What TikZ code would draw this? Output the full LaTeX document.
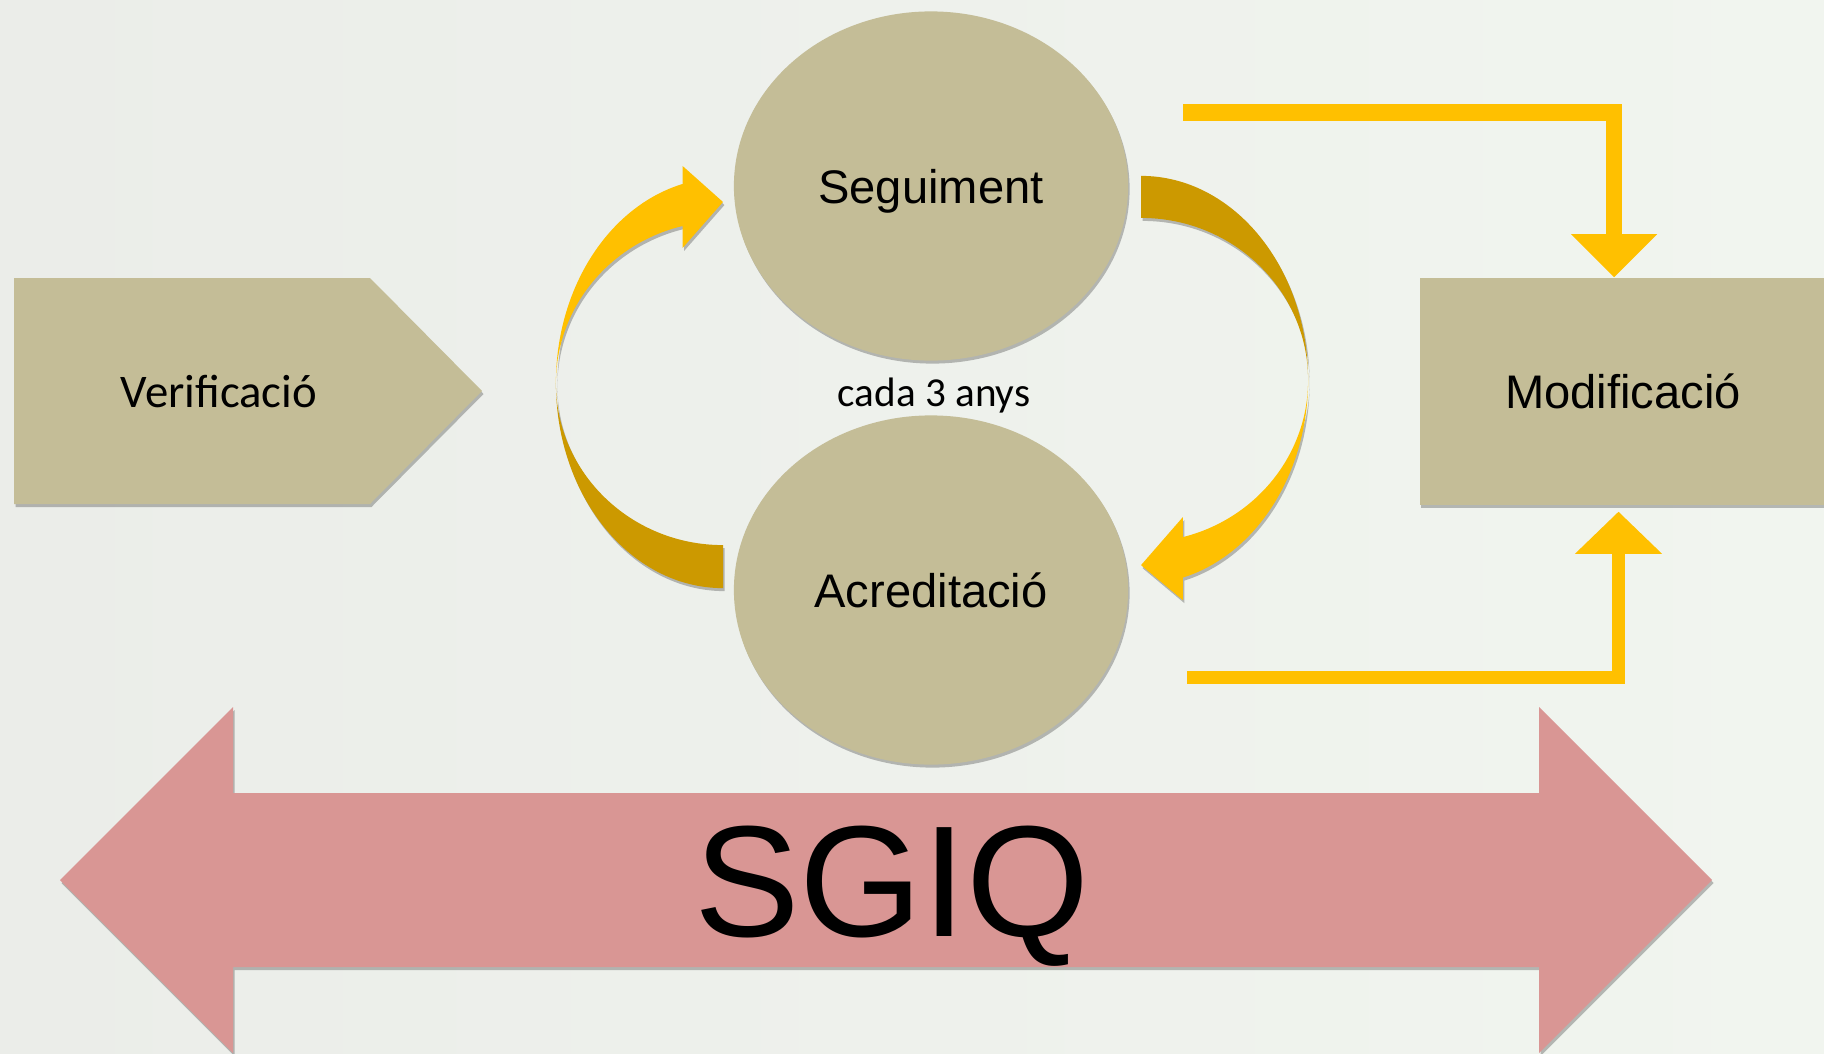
\documentclass[tikz,border=0pt]{standalone}
\usepackage{fontspec}
\setmainfont{Liberation Sans}
\newfontfamily\calibri{Carlito}
\usetikzlibrary{arrows.meta, shapes.geometric, shadows}
\definecolor{bgleft}{RGB}{235,237,233}
\definecolor{bgright}{RGB}{241,245,239}
\definecolor{sand}{RGB}{196,189,151}
\definecolor{gold}{RGB}{255,192,0}
\definecolor{darkgold}{RGB}{204,153,0}
\definecolor{rose}{RGB}{217,150,148}

\begin{document}
\begin{tikzpicture}[x=0.01cm, y=0.01cm,
    soft/.style={drop shadow={shadow xshift=0.015cm, shadow yshift=-0.03cm, opacity=0.25, fill=black}},
    phase/.style={ellipse, fill=sand, soft, minimum width=3.94cm, minimum height=3.49cm,
        inner sep=0pt, text height=0.34cm, text depth=0pt, font=\fontsize{13.4}{16}\selectfont},
    link/.style={draw=gold, line join=miter}]
    % background
    \useasboundingbox (0,0) rectangle (1824,1053);
    \fill[left color=bgleft, right color=bgright] (0,0) rectangle (1824,1053);

    % Verificacio
    \fill[sand, soft] (14,775) -- (370,775) -- (482,662) -- (370,549) -- (14,549) -- cycle;
    \node[text height=0.30cm, text depth=0pt, font=\calibri\fontsize{13.3}{16}\selectfont] (ver) at (219,661) {Verificació};

    % cycle
    \node[phase] (seg) at (931,867) {Seguiment};
    \node[phase] (acr) at (931,463) {Acreditació};
    \node[anchor=base, font=\calibri\fontsize{11.7}{14}\selectfont] (cada) at (934,647) {cada 3 anys};

    \coordinate (lc) at (723,670);
    \coordinate (rc) at (1141,673);
    \fill[darkgold, soft] ([yshift=-2.05cm]lc) arc[start angle=270, end angle=180, x radius=1.67cm, y radius=2.05cm]
        arc[start angle=180, end angle=270, x radius=1.67cm, y radius=1.62cm] -- cycle;
    \fill[gold, soft] ([xshift=-1.67cm]lc) arc[start angle=180, end angle=104, x radius=1.67cm, y radius=2.05cm]
        -- ++(0,18) -- ++(40.4,-36) -- ++(-40.4,-46) -- ++(0,22)
        arc[start angle=104, end angle=180, x radius=1.67cm, y radius=1.62cm] -- cycle;
    \fill[darkgold, soft] ([yshift=2.04cm]rc) arc[start angle=90, end angle=0, x radius=1.67cm, y radius=2.04cm]
        arc[start angle=0, end angle=90, x radius=1.67cm, y radius=1.62cm] -- cycle;
    \fill[gold, soft] ([xshift=1.67cm]rc) arc[start angle=0, end angle=-75.5, x radius=1.67cm, y radius=2.04cm]
        -- ++(0,-22.5) -- ++(-41.8,35) -- ++(41.8,48) -- ++(0,-20)
        arc[start angle=-75.5, end angle=0, x radius=1.67cm, y radius=1.62cm] -- cycle;

    % Modificacio
    \node[rectangle, fill=sand, soft, minimum width=4.06cm, minimum height=2.27cm, text height=0.34cm,
        text depth=0pt, font=\fontsize{13.4}{16}\selectfont] (mod) at (1623,661.5) {Modificació};
    \coordinate (topin) at (1183,940.5);
    \coordinate (botin) at (1187,375.5);
    \draw[link, line width=0.165cm, -{Triangle[width=0.86cm, length=0.43cm, line width=0pt]}]
        (topin) -| ([xshift=-0.09cm]mod.north);
    \draw[link, line width=0.133cm, -{Triangle[width=0.87cm, length=0.42cm, line width=0pt]}]
        (botin) -| ([xshift=-0.045cm, yshift=-0.06cm]mod.south);

    % SGIQ
    \fill[rose, soft] (60,173) -- (233,346) -- (233,260) -- (1539,260) -- (1539,346) -- (1712,173)
        -- (1539,0) -- (1539,86) -- (233,86) -- (233,0) -- cycle;
    \node[anchor=base, font=\fontsize{45}{54}\selectfont] (sgiq) at (892,117) {SGIQ};
\end{tikzpicture}
\end{document}
